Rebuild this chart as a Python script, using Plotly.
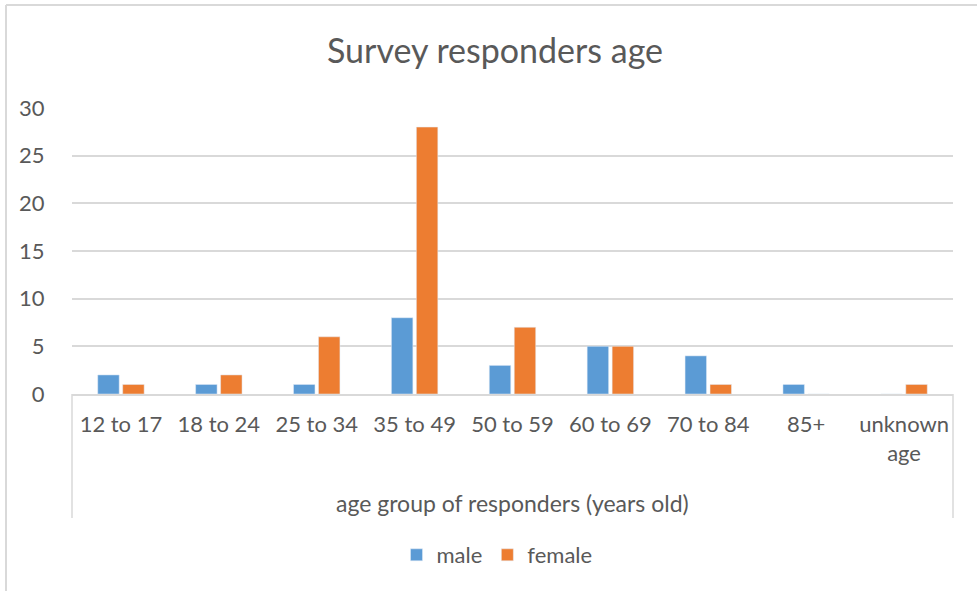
import plotly.graph_objects as go

# Survey data: respondents per age group, split by gender
age_groups = ["12 to 17", "18 to 24", "25 to 34", "35 to 49", "50 to 59",
              "60 to 69", "70 to 84", "85+", "unknown<br>age"]
male = [2, 1, 1, 8, 3, 5, 4, 1, 0]
female = [1, 2, 6, 28, 7, 5, 1, 0, 1]

TEXT = "#595959"
GRID = "#D9D9D9"
FONT = "Lato"

W, H = 977, 591
L, R, T, B = 72, 953, 108, 394  # plot area in pixels


def px(x):
    return (x - L) / (R - L)


def py(y):
    return (B - y) / (B - T)


fig = go.Figure()
fig.add_trace(go.Bar(name="male", x=age_groups, y=male, marker_color="#5B9BD5"))
fig.add_trace(go.Bar(name="female", x=age_groups, y=female, marker_color="#ED7D31"))

line_style = dict(color=GRID, width=1.5)
shapes = [
    # chart frame: top and left edges
    dict(type="line", xref="paper", yref="paper", x0=px(6), x1=px(980),
         y0=py(5), y1=py(5), line=dict(color=GRID, width=2)),
    dict(type="line", xref="paper", yref="paper", x0=px(6), x1=px(6),
         y0=py(5), y1=py(595), line=dict(color=GRID, width=2)),
    # category axis box sides
    dict(type="line", xref="paper", yref="paper", x0=0, x1=0, y0=0, y1=py(518),
         line=line_style),
    dict(type="line", xref="paper", yref="paper", x0=1, x1=1, y0=0, y1=py(518),
         line=line_style),
]

fig.update_layout(
    width=W, height=H,
    margin=dict(l=L, r=W - R, t=T, b=H - B, pad=0),
    paper_bgcolor="white", plot_bgcolor="white",
    font=dict(family=FONT, color=TEXT, size=22),
    title=dict(text="Survey responders age", x=495 / W, xanchor="center",
               y=1 - 51 / H, yanchor="middle",
               font=dict(family=FONT, size=34, color=TEXT)),
    barmode="group", bargap=0.49, bargroupgap=0.14,
    showlegend=True,
    legend=dict(orientation="h", x=px(497), xanchor="center", y=py(555),
                yanchor="middle", font=dict(size=22, color=TEXT),
                itemwidth=30, traceorder="normal"),
    shapes=shapes,
    annotations=[dict(text="age group of responders (years old)", xref="paper",
                      yref="paper", x=0.5, y=py(503), xanchor="center",
                      yanchor="middle", showarrow=False,
                      font=dict(family=FONT, size=23, color=TEXT))],
)

fig.update_xaxes(showline=True, linecolor=GRID, linewidth=1.5,
                 ticks="outside", ticklen=10, tickcolor="rgba(0,0,0,0)",
                 showgrid=False, tickfont=dict(size=22, color=TEXT))
fig.update_yaxes(range=[0, 30], dtick=5, showgrid=True, gridcolor=GRID,
                 gridwidth=1.5, zeroline=False, showline=False,
                 ticks="outside", ticklen=22, tickcolor="rgba(0,0,0,0)",
                 tickfont=dict(size=22, color=TEXT))

fig.write_html("out.html")
